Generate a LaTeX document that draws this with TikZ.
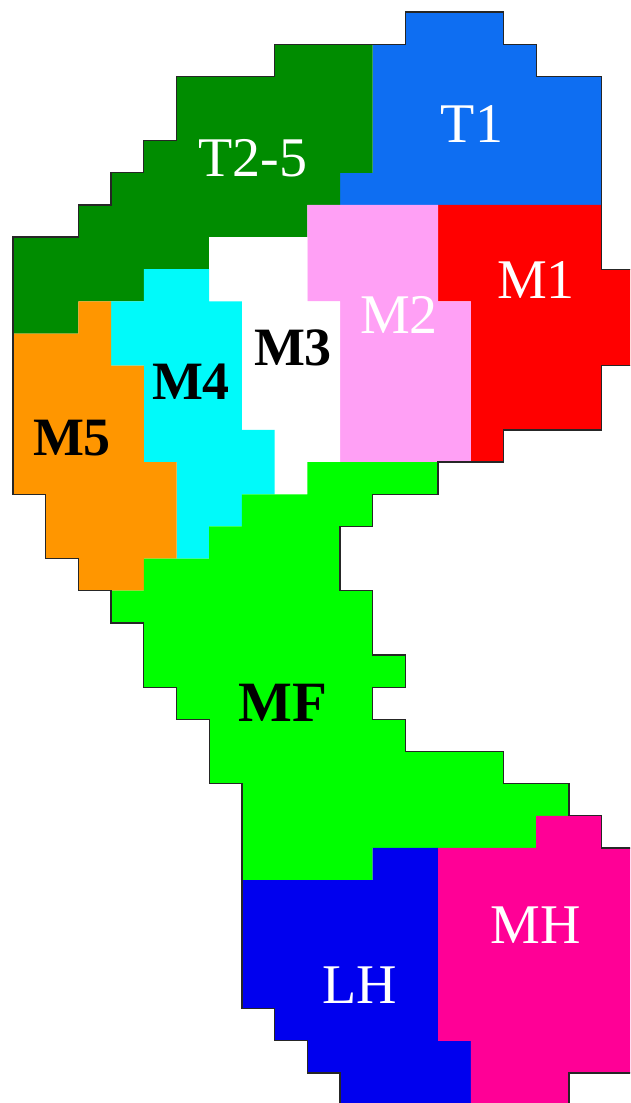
\documentclass[tikz,border=0pt]{standalone}
\usepackage{fontspec}
\setmainfont{Liberation Serif}
\definecolor{cTone}{RGB}{14,110,242}
\definecolor{cTtwo}{RGB}{0,140,0}
\definecolor{cMone}{RGB}{255,0,0}
\definecolor{cMtwo}{RGB}{255,160,245}
\definecolor{cMthree}{RGB}{255,255,255}
\definecolor{cMfour}{RGB}{0,250,250}
\definecolor{cMfive}{RGB}{255,150,0}
\definecolor{cMF}{RGB}{0,255,0}
\definecolor{cLH}{RGB}{0,0,238}
\definecolor{cMH}{RGB}{255,0,150}
\tikzset{
  region/.style={draw=none},
  outline/.style={draw=black!85, line width=1.3pt, line join=miter},
  wlabel/.style={text=white, font=\fontsize{56}{60}\selectfont, inner sep=0pt},
  blabel/.style={text=black, font=\fontsize{54}{58}\selectfont\bfseries, inner sep=0pt},
}
\begin{document}
\begin{tikzpicture}
\useasboundingbox (0pt,0pt) rectangle (630pt,-1103pt);
\clip (0pt,0pt) rectangle (630pt,-1103pt);
\fill[white] (0pt,0pt) rectangle (630pt,-1103pt);
\begin{scope}[shift={(13pt,-12pt)}, x=32.7pt, y=-32.15pt]
% T1
\fill[region, cTone] (12,0) -- (15,0) -- (15,1) -- (16,1) -- (16,2) -- (18,2) -- (18,6) -- (10,6) -- (10,5) -- (11,5) -- (11,1) -- (12,1) -- cycle;
% T2-5
\fill[region, cTtwo] (8,1) -- (11,1) -- (11,5) -- (10,5) -- (10,6) -- (9,6) -- (9,7) -- (6,7) -- (6,8) -- (4,8) -- (4,9) -- (2,9) -- (2,10) -- (0,10) -- (0,7) -- (2,7) -- (2,6) -- (3,6) -- (3,5) -- (4,5) -- (4,4) -- (5,4) -- (5,2) -- (8,2) -- cycle;
% M1
\fill[region, cMone] (13,6) -- (18,6) -- (18,8) -- (19.5,8) -- (19.5,11) -- (18,11) -- (18,13) -- (15,13) -- (15,14) -- (14,14) -- (14,9) -- (13,9) -- cycle;
% M2
\fill[region, cMtwo] (9,6) -- (13,6) -- (13,9) -- (14,9) -- (14,14) -- (10,14) -- (10,9) -- (9,9) -- cycle;
% M3
\fill[region, cMthree] (6,7) -- (9,7) -- (9,9) -- (10,9) -- (10,14) -- (9,14) -- (9,15) -- (8,15) -- (8,13) -- (7,13) -- (7,9) -- (6,9) -- cycle;
% M4
\fill[region, cMfour] (4,8) -- (6,8) -- (6,9) -- (7,9) -- (7,13) -- (8,13) -- (8,15) -- (7,15) -- (7,16) -- (6,16) -- (6,17) -- (5,17) -- (5,14) -- (4,14) -- (4,11) -- (3,11) -- (3,9) -- (4,9) -- cycle;
% M5
\fill[region, cMfive] (2,9) -- (3,9) -- (3,11) -- (4,11) -- (4,14) -- (5,14) -- (5,17) -- (4,17) -- (4,18) -- (2,18) -- (2,17) -- (1,17) -- (1,15) -- (0,15) -- (0,10) -- (2,10) -- cycle;
% MF
\fill[region, cMF] (5,17) -- (6,17) -- (6,16) -- (7,16) -- (7,15) -- (9,15) -- (9,14) -- (13,14) -- (13,15) -- (11,15) -- (11,16) -- (10,16) -- (10,18) -- (11,18) -- (11,20) -- (12,20) -- (12,21) -- (11,21) -- (11,22) -- (12,22) -- (12,23) -- (15,23) -- (15,24) -- (17,24) -- (17,25) -- (16,25) -- (16,26) -- (11,26) -- (11,27) -- (7,27) -- (7,24) -- (6,24) -- (6,22) -- (5,22) -- (5,21) -- (4,21) -- (4,19) -- (3,19) -- (3,18) -- (4,18) -- (4,17) -- cycle;
% LH
\fill[region, cLH] (7,27) -- (11,27) -- (11,26) -- (13,26) -- (13,32) -- (14,32) -- (14,34.5) -- (10,34.5) -- (10,33) -- (9,33) -- (9,32) -- (8,32) -- (8,31) -- (7,31) -- cycle;
% MH
\fill[region, cMH] (13,26) -- (16,26) -- (16,25) -- (18,25) -- (18,26) -- (19.5,26) -- (19.5,33) -- (17,33) -- (17,34.5) -- (14,34.5) -- (14,32) -- (13,32) -- cycle;
% outer outline
\draw[outline] (12,0) -- (15,0) -- (15,1) -- (16,1) -- (16,2) -- (18,2) -- (18,8) -- (19.5,8) -- (19.5,11) -- (18,11) -- (18,13) -- (15,13) -- (15,14) -- (13,14) -- (13,15) -- (11,15) -- (11,16) -- (10,16) -- (10,18) -- (11,18) -- (11,20) -- (12,20) -- (12,21) -- (11,21) -- (11,22) -- (12,22) -- (12,23) -- (15,23) -- (15,24) -- (17,24) -- (17,25) -- (18,25) -- (18,26) -- (19.5,26) -- (19.5,33) -- (17,33) -- (17,34.5) -- (10,34.5) -- (10,33) -- (9,33) -- (9,32) -- (8,32) -- (8,31) -- (7,31) -- (7,24) -- (6,24) -- (6,22) -- (5,22) -- (5,21) -- (4,21) -- (4,19) -- (3,19) -- (3,18) -- (2,18) -- (2,17) -- (1,17) -- (1,15) -- (0,15) -- (0,7) -- (2,7) -- (2,6) -- (3,6) -- (3,5) -- (4,5) -- (4,4) -- (5,4) -- (5,2) -- (8,2) -- (8,1) -- (12,1) -- cycle;
\end{scope}
% labels
\node[wlabel] (t25) at (253pt,-158pt) {T2-5};
\node[wlabel] (t1) at (472pt,-124pt) {T1};
\node[wlabel] (m1) at (536pt,-280pt) {M1};
\node[wlabel] (m2) at (399pt,-315pt) {M2};
\node[blabel] (m3) at (293pt,-348pt) {M3};
\node[blabel] (m4) at (191pt,-382pt) {M4};
\node[blabel] (m5) at (72pt,-438pt) {M5};
\node[blabel, font=\fontsize{57}{60}\selectfont\bfseries] (mf) at (283pt,-703pt) {MF};
\node[wlabel] (lh) at (360pt,-985pt) {LH};
\node[wlabel] (mh) at (536pt,-925pt) {MH};
\end{tikzpicture}
\end{document}
